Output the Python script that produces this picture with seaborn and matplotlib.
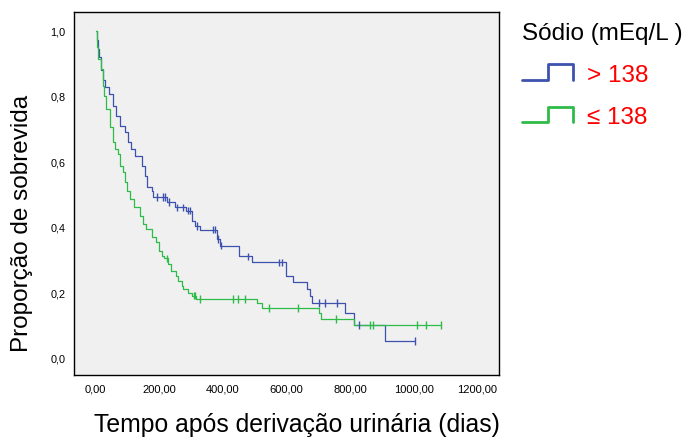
import numpy as np
import pandas as pd
import matplotlib
matplotlib.use("Agg")
import matplotlib.pyplot as plt
import seaborn as sns
from matplotlib.legend_handler import HandlerBase
from matplotlib.lines import Line2D

# ---------------- data ----------------
groups = ["> 138", "≤ 138"]

# Kaplan-Meier step points for Sodium > 138 (time in days, survival proportion)
hi_time = [0, 3, 6, 10, 17, 23, 29, 43, 55, 64, 76, 93, 103, 111, 124, 145, 155,
           162, 176, 181, 223, 249, 284, 302, 312, 328, 382, 391, 452, 491, 598,
           621, 666, 673, 681, 784, 812, 910]
hi_surv = [1.0, 0.97, 0.945, 0.92, 0.88, 0.85, 0.827, 0.806, 0.77, 0.74, 0.709,
           0.689, 0.658, 0.638, 0.617, 0.587, 0.556, 0.52, 0.51, 0.49, 0.475,
           0.459, 0.449, 0.418, 0.403, 0.391, 0.362, 0.342, 0.309, 0.291, 0.25,
           0.23, 0.209, 0.187, 0.166, 0.135, 0.10, 0.051]
hi_censor = [192, 213, 218, 231, 255, 274, 291, 297, 318, 370, 375, 386, 393,
             480, 576, 587, 702, 721, 758, 829, 1003]

# Kaplan-Meier step points for Sodium <= 138
lo_time = [0, 4, 8, 16, 22, 26, 32, 45, 55, 61, 71, 76, 87, 92, 99, 108, 120,
           139, 150, 158, 176, 190, 200, 208, 215, 228, 236, 253, 260, 270, 276,
           291, 302, 316, 506, 522, 703, 708, 812]
lo_surv = [1.0, 0.95, 0.913, 0.883, 0.832, 0.801, 0.76, 0.704, 0.658, 0.638,
           0.623, 0.587, 0.566, 0.536, 0.51, 0.485, 0.459, 0.434, 0.408, 0.393,
           0.367, 0.352, 0.326, 0.31, 0.303, 0.286, 0.265, 0.25, 0.235, 0.22,
           0.209, 0.196, 0.189, 0.179, 0.165, 0.151, 0.135, 0.117, 0.10]
lo_censor = [223, 310, 313, 328, 433, 448, 470, 546, 637, 756, 863, 871, 1010,
             1038, 1086]

x_ticks = [0, 200, 400, 600, 800, 1000, 1200]
x_ticklabels = ["0,00", "200,00", "400,00", "600,00", "800,00", "1000,00", "1200,00"]
y_ticks = [0.0, 0.2, 0.4, 0.6, 0.8, 1.0]
y_ticklabels = ["0,0", "0,2", "0,4", "0,6", "0,8", "1,0"]

colors = {"> 138": "#3c52ae", "≤ 138": "#2fbb47"}

# ---------------- build tables ----------------
def km_frame(name, t, s, cens):
    t = np.asarray(t, float)
    s = np.asarray(s, float)
    t_end = max(t[-1], max(cens))
    tt = np.append(t, t_end)
    ss = np.append(s, s[-1])
    steps = pd.DataFrame({"t": tt, "S": ss, "group": name})
    idx = np.searchsorted(t, np.asarray(cens, float), side="right") - 1
    cdf = pd.DataFrame({"t": cens, "S": s[idx], "group": name})
    return steps, cdf

s1, c1 = km_frame(groups[0], hi_time, hi_surv, hi_censor)
s2, c2 = km_frame(groups[1], lo_time, lo_surv, lo_censor)
steps = pd.concat([s1, s2], ignore_index=True)
cens = pd.concat([c1, c2], ignore_index=True)

# ---------------- figure ----------------
sns.set_style("white")
plt.rcParams["font.family"] = ["Liberation Sans", "DejaVu Sans"]
plt.rcParams["text.color"] = "black"

W, H = 686, 439
fig = plt.figure(figsize=(W / 100, H / 100), dpi=100)
ax = fig.add_axes([74.3 / W, 1 - 375.7 / H, (499.3 - 74.3) / W, (375.7 - 12.7) / H])
ax.set_facecolor("#f0f0f0")

sns.lineplot(data=steps, x="t", y="S", hue="group", hue_order=groups,
             palette=colors, estimator=None, sort=False, drawstyle="steps-post",
             linewidth=0.9, legend=False, ax=ax)
sns.scatterplot(data=cens, x="t", y="S", hue="group", hue_order=groups,
                palette=colors, marker="|", s=30, linewidth=1.0,
                legend=False, ax=ax, zorder=3)

ax.set_xlim(-67, 1269)
ax.set_ylim(-0.053, 1.058)
ax.set_xticks(x_ticks)
ax.set_xticklabels(x_ticklabels, fontsize=8)
ax.set_yticks(y_ticks)
ax.set_yticklabels(y_ticklabels, fontsize=7.8)
ax.tick_params(axis="both", direction="out", length=5, width=0.8, color="black",
               pad=1.5, labelcolor="black")
ax.set_xlabel("")
ax.set_ylabel("")
for sp in ax.spines.values():
    sp.set_visible(True)
    sp.set_color("black")
    sp.set_linewidth(1.0)

fig.text(297 / W, 1 - 425 / H, "Tempo após derivação urinária (dias)",
         ha="center", va="center", fontsize=17.8, color="black")
fig.text(22 / W, 1 - 223 / H, "Proporção de sobrevida", rotation=90,
         ha="center", va="center", fontsize=17.5, color="black")


# ---------------- legend with step-shaped handles ----------------
class StepHandler(HandlerBase):
    def create_artists(self, legend, orig_handle, xdescent, ydescent,
                       width, height, fontsize, trans):
        x0, y0 = -xdescent, -ydescent
        xs = [x0, x0 + width * 0.52, x0 + width * 0.52, x0 + width, x0 + width]
        ys = [y0, y0, y0 + height, y0 + height, y0]
        ln = Line2D(xs, ys, color=orig_handle.get_color(), linewidth=2.0,
                    transform=trans)
        return [ln]


handles = [Line2D([], [], color=colors[g]) for g in groups]
leg = fig.legend(handles, groups, handler_map={Line2D: StepHandler()},
                 loc="upper left", bbox_to_anchor=(512 / W, 1 - 13 / H),
                 frameon=False, fontsize=17.5, labelcolor="red",
                 title="Sódio (mEq/L )", title_fontsize=17.5,
                 handlelength=2.1, handleheight=0.62, handletextpad=0.6,
                 labelspacing=0.83, alignment="left", borderaxespad=0)
leg.get_title().set_color("black")

fig.savefig("out.png", dpi=100)
